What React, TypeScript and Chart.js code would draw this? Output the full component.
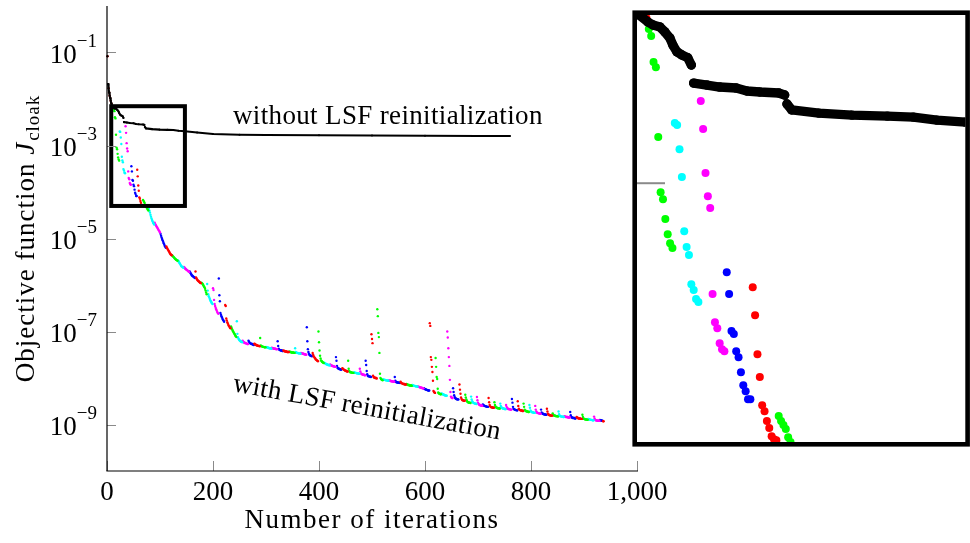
import React, { useEffect, useRef } from "react";
import { Chart, registerables } from "chart.js";

Chart.register(...registerables);

// ---------- axis ticks ----------
const xTickValues = [0, 200, 400, 600, 800, 1000];
const xTickLabels = ["0", "200", "400", "600", "800", "1,000"];
const yTickExponents = [-1, -3, -5, -7, -9];

// ---------- zoomed window (data units: iterations, log10 J) ----------
const zoomX = [8, 147];
const zoomLog = [-4.3, -2.155];

// ---------- without LSF reinitialization: [iteration, log10 J], null = gap ----------
const withoutLsf: [number, number | null][] = [
  [1, -1.08], [1.5, null],
  [2, -1.68], [3, -1.77], [4, -1.86], [5, -1.93], [6, -1.98], [7, -2.04], [8, -2.09], [9, -2.155],
  [12.6, -2.19], [14.8, -2.205], [17.7, -2.215], [19.8, -2.24], [21.9, -2.27], [23.2, -2.306],
  [24.9, -2.34], [27, -2.356], [29.5, -2.37], [31, -2.406], [31.5, null],
  [32, -2.497], [37.6, -2.507], [43, -2.517], [50, -2.522], [54.5, -2.537], [60, -2.542],
  [68, -2.547], [70.5, -2.557], [71, null],
  [71.5, -2.602], [73.5, -2.632], [85, -2.648], [99, -2.658], [114, -2.663], [125, -2.668],
  [135, -2.683], [147, -2.693], [170, -2.72], [200, -2.754], [250, -2.77], [300, -2.775],
  [400, -2.78], [500, -2.785], [600, -2.79], [700, -2.795], [760, -2.797],
];

// ---------- with LSF reinitialization: segments [start iteration, log10 J ...] ----------
const redSegments: number[][] = [
  [1, -1.08, -1.68, -1.77, -1.86, -1.93, -1.98, -2.04, -2.09, -2.14, -2.155, -2.16, -2.17],
  [57, -3.522, -3.663, -3.859, -3.974, -4.115, -4.145, -4.195, -4.23, -4.271, -4.286, -4.291],
  [112, -5.17, -5.2, -5.22, -5.24, -5.26, -5.28, -5.3, -5.32, -5.34, -5.35, -5.36],
  [167, -5.71, -5.84, -5.86, -5.88, -5.9, -5.91, -5.92, -5.93, -5.94, -5.95, -5.96],
  [223, -6.43, -6.45, -6.72, -6.76, -6.8, -6.83, -6.86, -6.88, -6.9, -6.92, -6.93],
  [278, -7.26, -7.27, -7.28, -7.29, -7.29, -7.3, -7.3, -7.31, -7.31, -7.31, -7.32],
  [333, -7.41, -7.42, -7.42, -7.43, -7.43, -7.43, -7.43, -7.44, -7.44, -7.44, -7.44],
  [388, -7.46, -7.5, -7.53, -7.55, -7.57, -7.58, -7.6, -7.61, -7.62, -7.63, -7.64],
  [444, -7.79, -7.8, -7.81, -7.82, -7.83, -7.84, -7.84, -7.85, -7.85, -7.86, -7.86],
  [499, -7.06, -7.16, -7.25, -7.95, -7.98, -7.99, -7.99, -8.0, -8.0, -8.0, -8.01],
  [554, -8.08, -8.1, -8.11, -8.12, -8.12, -8.13, -8.13, -8.13, -8.14, -8.14, -8.14],
  [609, -6.82, -6.88, -7.55, -7.61, -7.76, -7.87, -8.06, -8.28, -8.3, -8.31, -8.32],
  [665, -8.14, -8.25, -8.34, -8.42, -8.45, -8.47, -8.48, -8.48, -8.49, -8.49, -8.49],
  [720, -8.43, -8.52, -8.58, -8.61, -8.62, -8.63, -8.63, -8.63, -8.64, -8.64, -8.64],
  [775, -8.5, -8.6, -8.66, -8.68, -8.69, -8.69, -8.7, -8.7, -8.7, -8.71, -8.71],
  [830, -8.66, -8.72, -8.77, -8.79, -8.79, -8.8, -8.8, -8.8, -8.81, -8.81, -8.81],
  [886, -8.84, -8.85, -8.86, -8.86, -8.87, -8.87, -8.87, -8.87, -8.88, -8.88, -8.88],
  [936, -8.93, -8.93],
];

const greenSegments: number[][] = [
  [13, -2.225, -2.261, -2.391, -2.417, -2.768, -3.045, -3.08, -3.18, -3.256, -3.301, -3.326],
  [68, -4.17, -4.195, -4.215, -4.235, -4.276, -4.3, -4.32, -4.34, -4.36, -4.38, -4.4],
  [123, -5.36, -5.38, -5.39, -5.4, -5.42, -5.43, -5.44, -5.45, -5.46, -5.47, -5.48],
  [178, -5.95, -5.96, -5.97, -5.99, -6.01, -6.03, -6.05, -6.08, -6.12, -6.16, -6.2],
  [234, -6.89, -6.92, -6.95, -6.98, -7.0, -7.02, -7.04, -7.06, -7.08, -7.1, -7.12],
  [289, -7.14, -7.3, -7.31, -7.32, -7.32, -7.33, -7.33, -7.33, -7.34, -7.34, -7.34],
  [344, -7.43, -7.44, -7.44, -7.44, -7.45, -7.45, -7.45, -7.45, -7.45, -7.46, -7.46],
  [399, -7.0, -7.23, -7.41, -7.52, -7.58, -7.62, -7.64, -7.65, -7.66, -7.67, -7.68],
  [455, -7.63, -7.8, -7.85, -7.87, -7.87, -7.88, -7.88, -7.88, -7.89, -7.89, -7.89],
  [510, -6.52, -6.67, -7.03, -7.12, -7.46, -7.91, -8.0, -8.02, -8.03, -8.04, -8.05],
  [565, -8.13, -8.14, -8.14, -8.15, -8.15, -8.15, -8.16, -8.16, -8.16, -8.16, -8.17],
  [620, -7.57, -7.76, -7.98, -8.02, -8.23, -8.31, -8.33, -8.34, -8.34, -8.35, -8.35],
  [676, -8.36, -8.42, -8.46, -8.49, -8.51, -8.52, -8.52, -8.53, -8.53, -8.53, -8.54],
  [731, -8.52, -8.58, -8.61, -8.63, -8.64, -8.64, -8.65, -8.65, -8.65, -8.65, -8.66],
  [786, -8.55, -8.62, -8.68, -8.7, -8.71, -8.71, -8.72, -8.72, -8.72, -8.73, -8.73],
  [841, -8.76, -8.79, -8.8, -8.81, -8.81, -8.81, -8.82, -8.82, -8.82, -8.82, -8.83],
  [897, -8.79, -8.84, -8.87, -8.88, -8.88, -8.89, -8.89, -8.89, -8.89, -8.9, -8.9],
];

const cyanSegments: number[][] = [
  [24, -2.698, -2.708, -2.829, -2.969, -3.241, -3.321, -3.361, -3.507, -3.537, -3.582, -3.597],
  [79, -4.36, -4.4, -4.44, -4.49, -4.53, -4.57, -4.6, -4.63, -4.66, -4.68, -4.7],
  [134, -5.47, -5.49, -5.51, -5.53, -5.55, -5.57, -5.59, -5.6, -5.61, -5.62, -5.63],
  [189, -5.98, -6.12, -6.2, -6.24, -6.27, -6.3, -6.33, -6.35, -6.37, -6.39, -6.41],
  [245, -6.78, -7.05, -7.12, -7.15, -7.17, -7.19, -7.2, -7.21, -7.22, -7.22, -7.23],
  [300, -7.33, -7.34, -7.34, -7.35, -7.35, -7.35, -7.36, -7.36, -7.36, -7.36, -7.37],
  [355, -7.36, -7.44, -7.45, -7.46, -7.46, -7.46, -7.47, -7.47, -7.47, -7.47, -7.48],
  [410, -7.67, -7.68, -7.69, -7.7, -7.7, -7.71, -7.71, -7.72, -7.72, -7.72, -7.73],
  [466, -7.88, -7.88, -7.89, -7.89, -7.89, -7.9, -7.9, -7.9, -7.9, -7.91, -7.91],
  [521, -8.03, -8.03, -8.04, -8.04, -8.04, -8.05, -8.05, -8.05, -8.05, -8.06, -8.06],
  [576, -8.15, -8.16, -8.16, -8.17, -8.17, -8.17, -8.18, -8.18, -8.18, -8.18, -8.19],
  [631, -8.33, -8.34, -8.35, -8.35, -8.36, -8.36, -8.37, -8.37, -8.38, -8.38, -8.38],
  [687, -8.4, -8.46, -8.5, -8.52, -8.53, -8.54, -8.54, -8.55, -8.55, -8.55, -8.56],
  [742, -8.55, -8.6, -8.63, -8.64, -8.65, -8.65, -8.66, -8.66, -8.66, -8.67, -8.67],
  [797, -8.58, -8.64, -8.7, -8.72, -8.73, -8.73, -8.74, -8.74, -8.74, -8.75, -8.75],
  [852, -8.72, -8.78, -8.81, -8.82, -8.82, -8.83, -8.83, -8.83, -8.83, -8.84, -8.84],
  [908, -8.88, -8.89, -8.89, -8.89, -8.9, -8.9, -8.9, -8.9, -8.91, -8.91, -8.91],
];

const magentaSegments: number[][] = [
  [35, -2.587, -2.728, -2.949, -3.065, -3.125, -3.557, -3.698, -3.728, -3.804, -3.834, -3.844],
  [90, -4.66, -4.69, -4.71, -4.73, -4.75, -4.77, -4.79, -4.81, -4.83, -4.85, -4.87],
  [145, -5.61, -5.62, -5.64, -5.65, -5.66, -5.67, -5.68, -5.69, -5.7, -5.71, -5.72],
  [200, -6.07, -6.11, -6.32, -6.41, -6.45, -6.49, -6.52, -6.55, -6.58, -6.6, -6.62],
  [256, -7.2, -7.22, -7.23, -7.24, -7.24, -7.25, -7.25, -7.26, -7.26, -7.27, -7.27],
  [311, -7.35, -7.36, -7.36, -7.36, -7.37, -7.37, -7.37, -7.37, -7.38, -7.38, -7.38],
  [366, -7.46, -7.47, -7.47, -7.48, -7.48, -7.48, -7.49, -7.49, -7.49, -7.5, -7.5],
  [421, -7.71, -7.72, -7.73, -7.73, -7.74, -7.74, -7.75, -7.75, -7.75, -7.76, -7.76],
  [477, -7.8, -7.86, -7.9, -7.91, -7.92, -7.92, -7.93, -7.93, -7.93, -7.94, -7.94],
  [532, -8.05, -8.06, -8.06, -8.06, -8.07, -8.07, -8.07, -8.07, -8.08, -8.08, -8.08],
  [587, -8.18, -8.19, -8.19, -8.2, -8.2, -8.21, -8.21, -8.21, -8.22, -8.22, -8.22],
  [642, -7.0, -7.13, -7.36, -7.55, -7.74, -8.04, -8.3, -8.4, -8.42, -8.43, -8.43],
  [698, -8.41, -8.48, -8.53, -8.56, -8.57, -8.58, -8.58, -8.59, -8.59, -8.59, -8.6],
  [753, -8.58, -8.62, -8.65, -8.66, -8.66, -8.67, -8.67, -8.67, -8.68, -8.68, -8.68],
  [808, -8.6, -8.68, -8.72, -8.74, -8.75, -8.75, -8.76, -8.76, -8.76, -8.77, -8.77],
  [863, -8.82, -8.83, -8.83, -8.84, -8.84, -8.84, -8.84, -8.85, -8.85, -8.85, -8.85],
  [919, -8.83, -8.87, -8.9, -8.91, -8.91, -8.91, -8.92, -8.92, -8.92, -8.92, -8.92],
];

const blueSegments: number[][] = [
  [46, -3.447, -3.557, -3.743, -3.758, -3.844, -3.874, -3.949, -4.015, -4.045, -4.085, -4.085],
  [101, -4.9, -4.94, -4.98, -5.01, -5.04, -5.07, -5.1, -5.13, -5.16, -5.18, -5.2],
  [156, -5.71, -5.73, -5.75, -5.77, -5.79, -5.8, -5.81, -5.82, -5.83, -5.84, -5.85],
  [211, -5.86, -6.22, -6.35, -6.6, -6.64, -6.67, -6.7, -6.73, -6.75, -6.77, -6.79],
  [267, -7.2, -7.22, -7.24, -7.25, -7.26, -7.26, -7.27, -7.27, -7.28, -7.28, -7.29],
  [322, -7.21, -7.31, -7.37, -7.39, -7.4, -7.4, -7.41, -7.41, -7.41, -7.42, -7.42],
  [377, -6.91, -7.21, -7.38, -7.44, -7.48, -7.5, -7.51, -7.52, -7.52, -7.53, -7.53],
  [432, -7.55, -7.63, -7.74, -7.78, -7.79, -7.8, -7.8, -7.81, -7.81, -7.82, -7.82],
  [488, -7.63, -7.72, -7.85, -7.92, -7.95, -7.96, -7.96, -7.97, -7.97, -7.97, -7.98],
  [543, -7.98, -8.06, -8.08, -8.09, -8.09, -8.09, -8.1, -8.1, -8.1, -8.1, -8.11],
  [598, -8.22, -8.23, -8.24, -8.24, -8.25, -8.25, -8.26, -8.26, -8.27, -8.27, -8.27],
  [653, -8.22, -8.3, -8.37, -8.41, -8.43, -8.44, -8.45, -8.45, -8.46, -8.46, -8.46],
  [709, -8.57, -8.58, -8.59, -8.6, -8.6, -8.61, -8.61, -8.61, -8.62, -8.62, -8.62],
  [764, -8.45, -8.53, -8.62, -8.66, -8.67, -8.68, -8.68, -8.69, -8.69, -8.69, -8.7],
  [819, -8.68, -8.74, -8.76, -8.77, -8.77, -8.78, -8.78, -8.78, -8.79, -8.79, -8.79],
  [874, -8.73, -8.8, -8.84, -8.85, -8.85, -8.86, -8.86, -8.86, -8.86, -8.87, -8.87],
  [930, -8.9, -8.91, -8.91, -8.92, -8.92, -8.92],
];

const seriesColors = {
  red: "#ff0000",
  green: "#00ff00",
  cyan: "#00ffff",
  magenta: "#ff00ff",
  blue: "#0000ff",
};

const FONT = '"Liberation Serif", "Times New Roman", serif';

function segmentsToPoints(segs: number[][]) {
  const pts: { x: number; y: number }[] = [];
  for (const seg of segs) {
    const start = seg[0];
    for (let i = 1; i < seg.length; i++) pts.push({ x: start + i - 1, y: Math.pow(10, seg[i]) });
  }
  return pts;
}

function blackPoints() {
  return withoutLsf.map(([x, e]) => ({ x, y: e === null ? null : Math.pow(10, e) }));
}

function buildDatasets(dotR: number, lineW: number, clip: any) {
  const col = [
    { segs: redSegments, c: seriesColors.red },
    { segs: greenSegments, c: seriesColors.green },
    { segs: cyanSegments, c: seriesColors.cyan },
    { segs: magentaSegments, c: seriesColors.magenta },
    { segs: blueSegments, c: seriesColors.blue },
  ];
  const ds: any[] = [
    {
      data: blackPoints(),
      showLine: true,
      spanGaps: false,
      borderColor: "#000",
      borderWidth: lineW,
      borderCapStyle: "round",
      borderJoinStyle: "round",
      pointRadius: lineW / 2,
      pointBackgroundColor: "#000",
      pointBorderWidth: 0,
      clip,
    },
  ];
  for (const { segs, c } of col) {
    ds.push({
      data: segmentsToPoints(segs),
      showLine: false,
      pointRadius: dotR,
      pointBackgroundColor: c,
      pointBorderColor: c,
      pointBorderWidth: 0,
      clip,
    });
  }
  return ds;
}

function line(ctx: CanvasRenderingContext2D, x0: number, y0: number, x1: number, y1: number) {
  ctx.beginPath();
  ctx.moveTo(x0, y0);
  ctx.lineTo(x1, y1);
  ctx.stroke();
}

function spacing(ctx: any, px: number) {
  ctx.letterSpacing = px + "px";
}

const mainDecor = {
  id: "mainDecor",
  afterDraw(chart: any) {
    const { ctx, chartArea: a, scales } = chart;
    const xs = scales.x;
    const ys = scales.y;
    ctx.save();
    // zoom box
    const bx0 = xs.getPixelForValue(zoomX[0]);
    const bx1 = xs.getPixelForValue(zoomX[1]);
    const by0 = ys.getPixelForValue(Math.pow(10, zoomLog[1]));
    const by1 = ys.getPixelForValue(Math.pow(10, zoomLog[0]));
    ctx.strokeStyle = "#000";
    ctx.lineWidth = 4;
    ctx.strokeRect(bx0, by0, bx1 - bx0, by1 - by0);
    // ticks (inside)
    ctx.strokeStyle = "#8a8a8a";
    ctx.lineWidth = 1;
    for (const v of xTickValues) {
      const px = Math.round(xs.getPixelForValue(v)) + 0.5;
      line(ctx, px, a.bottom, px, a.bottom - 10);
    }
    for (const e of yTickExponents) {
      const py = Math.round(ys.getPixelForValue(Math.pow(10, e))) + 0.5;
      line(ctx, a.left, py, a.left + 9, py);
    }
    // axis lines
    ctx.strokeStyle = "#000";
    ctx.lineWidth = 1.2;
    line(ctx, a.left, a.top, a.left, a.bottom);
    line(ctx, a.left - 0.6, a.bottom, a.right + 1, a.bottom);

    ctx.fillStyle = "#000";
    spacing(ctx, 0);
    // x tick labels
    ctx.font = `27px ${FONT}`;
    ctx.textAlign = "center";
    ctx.textBaseline = "alphabetic";
    xTickValues.forEach((v, i) => {
      ctx.fillText(xTickLabels[i], xs.getPixelForValue(v), a.bottom + 29);
    });
    // y tick labels 10^e
    for (const e of yTickExponents) {
      const py = ys.getPixelForValue(Math.pow(10, e));
      const sup = "\u2212" + Math.abs(e);
      ctx.textAlign = "right";
      ctx.font = `19px ${FONT}`;
      const supW = ctx.measureText(sup).width;
      ctx.fillText(sup, a.left - 10, py - 5.5);
      ctx.font = `27px ${FONT}`;
      ctx.fillText("10", a.left - 10 - supW, py + 10.5);
    }
    // x axis title
    spacing(ctx, 1.5);
    ctx.font = `27px ${FONT}`;
    ctx.textAlign = "center";
    ctx.fillText("Number of iterations", (a.left + a.right) / 2, a.bottom + 57);

    // y axis title (rotated)
    spacing(ctx, 1);
    ctx.save();
    ctx.translate(a.left - 73, (a.top + a.bottom) / 2);
    ctx.rotate(-Math.PI / 2);
    ctx.textAlign = "left";
    ctx.font = `27px ${FONT}`;
    const t1 = "Objective function ";
    const w1 = ctx.measureText(t1).width;
    ctx.font = `italic 27px ${FONT}`;
    const wJ = ctx.measureText("J").width;
    ctx.font = `19px ${FONT}`;
    const wS = ctx.measureText("cloak").width;
    const total = w1 + wJ + 1 + wS;
    const x0 = -total / 2;
    ctx.font = `27px ${FONT}`;
    ctx.fillText(t1, x0, 0);
    ctx.font = `italic 27px ${FONT}`;
    ctx.fillText("J", x0 + w1, 0);
    ctx.font = `19px ${FONT}`;
    ctx.fillText("cloak", x0 + w1 + wJ + 1, 4.5);
    ctx.restore();

    // annotations
    ctx.font = `27px ${FONT}`;
    ctx.textAlign = "left";
    spacing(ctx, 0.35);
    ctx.fillText("without LSF reinitialization", 233, 124);
    spacing(ctx, 0.25);
    ctx.save();
    ctx.translate(232, 391);
    ctx.rotate((10.3 * Math.PI) / 180);
    ctx.fillText("with LSF reinitialization", 0, 0);
    ctx.restore();

    ctx.restore();
  },
};

const insetDecor = {
  id: "insetDecor",
  beforeDraw(chart: any) {
    const { ctx, width, height } = chart;
    ctx.save();
    ctx.fillStyle = "#fff";
    ctx.fillRect(0, 0, width, height);
    ctx.restore();
  },
  afterDraw(chart: any) {
    const { ctx, chartArea: a, scales } = chart;
    ctx.save();
    const py = scales.y.getPixelForValue(1e-3);
    ctx.strokeStyle = "#8a8a8a";
    ctx.lineWidth = 2;
    line(ctx, a.left, py, a.left + 28, py);
    ctx.strokeStyle = "#000";
    ctx.lineWidth = 4.6;
    ctx.strokeRect(a.left - 2.3, a.top - 2.3, a.right - a.left + 4.6, a.bottom - a.top + 4.6);
    ctx.restore();
  },
};

export default function App() {
  const mainRef = useRef<HTMLCanvasElement | null>(null);
  const insetRef = useRef<HTMLCanvasElement | null>(null);

  useEffect(() => {
    const main = new Chart(mainRef.current as HTMLCanvasElement, {
      type: "scatter",
      data: { datasets: buildDatasets(1.2, 2.1, false) },
      options: {
        responsive: false,
        animation: false,
        devicePixelRatio: 1,
        events: [],
        layout: { padding: { left: 107, top: 6, right: 333, bottom: 72 } },
        scales: {
          x: { type: "linear", min: 0, max: 1000, display: false },
          y: { type: "logarithmic", min: 1e-10, max: 1, display: false },
        },
        plugins: { legend: { display: false }, tooltip: { enabled: false } },
      } as any,
      plugins: [mainDecor],
    });
    const inset = new Chart(insetRef.current as HTMLCanvasElement, {
      type: "scatter",
      data: { datasets: buildDatasets(4.0, 9.4, 0) },
      options: {
        responsive: false,
        animation: false,
        devicePixelRatio: 1,
        events: [],
        layout: { padding: { left: 7, top: 7, right: 4, bottom: 7 } },
        scales: {
          x: { type: "linear", min: zoomX[0], max: zoomX[1], display: false },
          y: {
            type: "logarithmic",
            min: Math.pow(10, zoomLog[0]),
            max: Math.pow(10, zoomLog[1]),
            display: false,
          },
        },
        plugins: { legend: { display: false }, tooltip: { enabled: false } },
      } as any,
      plugins: [insetDecor],
    });
    return () => {
      main.destroy();
      inset.destroy();
    };
  }, []);

  return (
    <div style={{ position: "fixed", left: 0, top: 0, width: 970, height: 543, background: "#fff" }}>
      <canvas ref={mainRef} width={970} height={543} style={{ position: "absolute", left: 0, top: 0 }} />
      <canvas ref={insetRef} width={340} height={441} style={{ position: "absolute", left: 630, top: 8 }} />
    </div>
  );
}
